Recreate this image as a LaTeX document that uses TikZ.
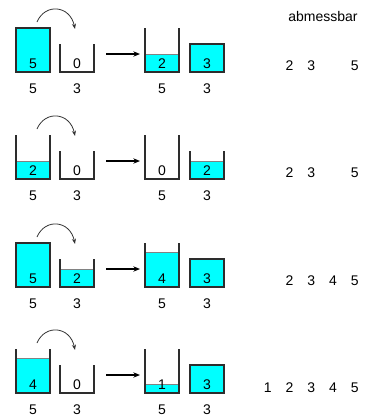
\documentclass[tikz,border=0pt]{standalone}
\usepackage{fontspec}
\setmainfont{Liberation Sans}
\usetikzlibrary{arrows.meta}
\definecolor{wasser}{RGB}{0,255,255}
\definecolor{wand}{RGB}{45,45,45}
\definecolor{spiegelgrau}{RGB}{130,130,130}
\tikzset{
  zahl/.style={inner sep=0pt,font=\fontsize{10.5}{12}\selectfont},
  wandlinie/.style={wand,line width=1.5pt},
  spiegel/.style={spiegelgrau,line width=0.75pt},
  bogen/.style={-{Stealth[length=4pt,width=3pt]},black!80,line width=0.6pt},
  duenn/.style={-{Stealth[length=5pt,width=4pt]},line width=0.9pt},
  dick/.style={-{Stealth[length=5pt,width=4pt]},line width=1.6pt}
}
% name, x, boden, volumen, inhalt
\newcommand{\gefaess}[5]{%
  \pgfmathsetmacro{\hoehe}{8*#4+4}
  \pgfmathsetmacro{\pegel}{ifthenelse(#5==#4,\hoehe,8.6*#5)}
  \ifnum#5>0
    \fill[wasser] (#2,#3) rectangle (#2+34,#3-\pegel);
    \draw[spiegel] (#2,#3-\pegel) -- (#2+34,#3-\pegel);
  \fi
  \ifnum#5=#4
    \draw[wandlinie] (#2,#3) rectangle (#2+34,#3-\hoehe);
  \else
    \draw[wandlinie] (#2,#3-\hoehe) -- (#2,#3) -- (#2+34,#3) -- (#2+34,#3-\hoehe);
  \fi
  \node[zahl] (#1i) at (#2+17,#3-8) {#5};
  \node[zahl] (#1k) at (#2+17,#3+17) {#4};
}
\begin{document}
\begin{tikzpicture}[x=0.75pt,y=-0.75pt]
  \useasboundingbox (0,0) rectangle (377,419);
  \node[zahl] (titel) at (323,16) {abmessbar};
  \foreach \r/\dy/\a/\b/\c/\d/\pfeil in {a/0/5/0/2/3/duenn, b/107/2/0/0/2/dick, c/215/5/2/4/3/dick, d/321/4/0/1/3/duenn}{
    \begin{scope}[shift={(0,\dy)}]
      \gefaess{\r1}{16}{72}{5}{\a}
      \gefaess{\r2}{60}{72}{3}{\b}
      \gefaess{\r3}{145}{72}{5}{\c}
      \gefaess{\r4}{190}{72}{3}{\d}
      \coordinate (\r b0) at (37,22);
      \coordinate (\r b1) at (75,29);
      \draw[bogen] (\r b0) .. controls (45,3) and (70,5) .. (\r b1);
      \coordinate (\r p0) at (106,54);
      \coordinate (\r p1) at (140,54);
      \draw[\pfeil] (\r p0) -- (\r p1);
    \end{scope}
  }
  % messbare Mengen
  \foreach \z in {2,3,5} \node[zahl] (az\z) at (246+21.75*\z,66) {\z};
  \foreach \z in {2,3,5} \node[zahl] (bz\z) at (246+21.75*\z,173) {\z};
  \foreach \z in {2,3,4,5} \node[zahl] (cz\z) at (246+21.75*\z,281) {\z};
  \foreach \z in {1,2,3,4,5} \node[zahl] (dz\z) at (246+21.75*\z,388) {\z};
\end{tikzpicture}
\end{document}
